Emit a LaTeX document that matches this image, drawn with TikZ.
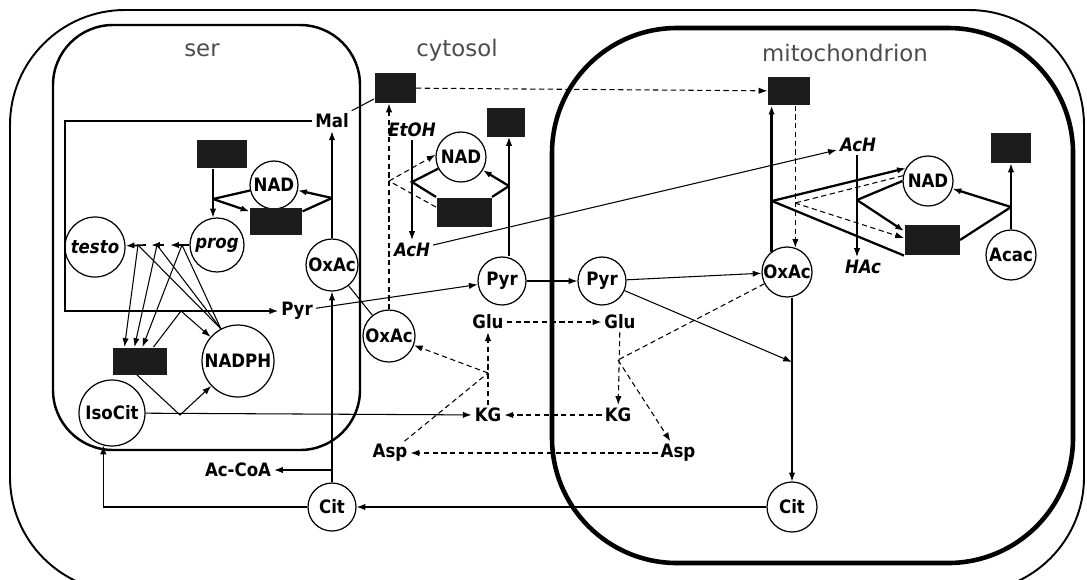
\documentclass[tikz,border=0pt]{standalone}
\usepackage{fontspec}
\newfontfamily\metfont{DejaVu Sans Condensed}
\newfontfamily\ttlfont{DejaVu Sans}
\usepackage{tikz}
\usetikzlibrary{calc,arrows.meta}
\definecolor{enzgray}{RGB}{28,28,28}

\begin{document}
\begin{tikzpicture}[x=0.02cm, y=-0.02cm, line width=0.6pt, >={Latex[length=5pt,width=3.6pt]},
    met/.style={circle, draw, line width=0.7pt, inner sep=0pt, minimum size=#1cm,
                font=\metfont\bfseries\fontsize{10.5}{12}\selectfont},
    met/.default=0.96,
    ital/.style={font=\metfont\bfseries\itshape\fontsize{10.5}{12}\selectfont},
    lbl/.style={inner sep=1.5pt, font=\metfont\bfseries\fontsize{10.5}{12}\selectfont},
    enz/.style n args={2}{rectangle, fill=enzgray, inner sep=0pt, minimum width=#1cm, minimum height=#2cm},
    ttl/.style={font=\ttlfont\fontsize{13}{15}\selectfont, text=black!70},
    bold/.style={line width=1.3pt},
    heavy/.style={line width=1.7pt},
    dashline/.style={dash pattern=on 3pt off 2pt}]
    \useasboundingbox (0,0) rectangle (1087,579);

    % Compartments
    \draw[line width=1.1pt, rounded corners=2.3cm] (10,10) rectangle (1084,592);
    \draw[line width=1.4pt, rounded corners=1.2cm] (53,25) rectangle (360,450);
    \draw[line width=2.6pt, rounded corners=2.5cm] (552,28) rectangle (1073,563);
    \node[ttl] (serT) at (202,50) {ser};
    \node[ttl] (cytT) at (457,50) {cytosol};
    \node[ttl] (mitT) at (845,53) {mitochondrion};

    % Ser
    \node[lbl] (malS) at (332,121) {Mal};
    \node[lbl] (pyrS) at (297,311) {Pyr};
    \node[met=1.04] (oxacS) at (332,265) {OxAc};
    \node[met] (nadS) at (274,185) {NAD};
    \node[enz={1.04}{0.54}] (nadhS) at (276,221) {};
    \node[enz={1.0}{0.56}] (boxS1) at (222,154) {};
    \node[met=1.08, ital] (prog) at (217,245) {prog};
    \node[met=1.2, ital] (testo) at (95,247) {testo};
    \node[enz={1.08}{0.54}] (nadpS) at (140,361) {};
    \node[met=1.44] (nadph) at (238,361) {NADPH};
    \node[met=1.32] (isocit) at (112,413) {IsoCit};

    % Cytosol
    \node[lbl] (accoa) at (238,470) {Ac-CoA};
    \node[met] (citC) at (332,507) {Cit};
    \node[met=1.04] (oxacC) at (389,336) {OxAc};
    \node[enz={0.82}{0.6}] (malC) at (395,88) {};
    \node[lbl, ital] (etoh) at (412,130) {EtOH};
    \node[lbl, ital] (achC) at (412,250) {AcH};
    \node[met=1.0] (nadC) at (461,157) {NAD};
    \node[enz={1.1}{0.58}] (nadhC) at (464,212) {};
    \node[enz={0.76}{0.58}] (boxC2) at (506,122) {};
    \node[met] (pyrC) at (502,281) {Pyr};
    \node[lbl] (gluC) at (488,322) {Glu};
    \node[lbl] (kgC) at (488,415) {KG};
    \node[lbl] (aspC) at (390,453) {Asp};

    % Mitochondrion
    \node[met] (pyrM) at (602,281) {Pyr};
    \node[lbl] (gluM) at (620,322) {Glu};
    \node[lbl] (kgM) at (618,415) {KG};
    \node[lbl] (aspM) at (678,453) {Asp};
    \node[met=1.0] (oxacM) at (787,272) {OxAc};
    \node[met=1.0] (citM) at (792,507) {Cit};
    \node[enz={0.84}{0.56}] (malM) at (789,91) {};
    \node[lbl, ital] (achM) at (858,145) {AcH};
    \node[lbl, ital] (hac) at (863,267) {HAc};
    \node[met=1.0] (nadM) at (928,181) {NAD};
    \node[enz={1.1}{0.6}] (nadhM) at (932,240) {};
    \node[enz={0.8}{0.6}] (boxM2) at (1011,148) {};
    \node[met=1.0] (acac) at (1011,255) {Acac};

    % Ser: malic enzyme, isocitrate dehydrogenase
    \coordinate (cMal) at (65,121);
    \coordinate (jME) at (181,311);
    \coordinate (jIDH) at (180,415);
    \draw[->] (malS) -- (cMal) |- (pyrS);
    \draw (malS) -- (malC);
    \draw[->] ($(nadpS.north east)+(-14,0)$) -- (jME) -- (nadph);
    \draw[->] (isocit) -- (kgC);
    \draw[->] ($(nadpS.south)+(-3,0)$) -- (jIDH) -- (nadph);

    % Ser: prog to testo
    \coordinate (s1) at (170,245);
    \coordinate (s2) at (164,245);
    \coordinate (s3) at (151,245);
    \coordinate (s4) at (146,245);
    \draw[->, line width=1pt] (prog) -- (s1);
    \draw[->, line width=1pt] (s2) -- (s3);
    \draw[->, line width=1pt] (s4) -- (testo);
    \coordinate (jT1) at (138,245);
    \coordinate (jT2) at (157,245);
    \coordinate (jT3) at (182,245);
    \foreach \j/\dx in {jT1/12, jT2/22, jT3/30} {
        \draw (nadph.118) -- (\j);
        \draw[->] (\j) -- ($(nadpS.north west)+(\dx,0)$);
    }

    % Ser: NAD / NADH pairs
    \coordinate (jP) at (213,199);
    \coordinate (jMDH) at (332,198);
    \draw[->] (boxS1.south -| jP) -- (jP |- prog.north);
    \draw[bold] (nadS) -- (jP);
    \draw[bold, ->] (jP) -- (nadhS.160);
    \draw[->] (oxacS) -- (malS);
    \draw[bold] (nadhS.20) -- (jMDH);
    \draw[bold, ->] (jMDH) -- (nadS);

    % Citrate lyase
    \coordinate (jCL) at (332,470);
    \draw[->] (citC) -- (oxacS);
    \draw[->] (jCL) -- (accoa);
    \draw[->] (citC) -| (isocit.255);
    \draw (oxacS) -- (oxacC);

    % Cytosol
    \coordinate (jD) at (389,181);
    \coordinate (jADH) at (412,182);
    \coordinate (jLDH) at (509,186);
    \draw[dashline, ->] (oxacC.north) -- (oxacC.north |- malC.south);
    \draw[dashline] (nadhC.170) -- (jD);
    \draw[dashline, ->] (jD) -- (nadC.175);
    \draw[dashline, ->] (malC) -- (malM);
    \draw[->] (etoh) -- (achC);
    \draw[bold] (nadC) -- (jADH) -- (nadhC.north west);
    \draw[->] (pyrC.north -| jLDH) -- (jLDH |- boxC2.south);
    \draw[bold] (nadhC.north east) -- (jLDH);
    \draw[bold, ->] (jLDH) -- (nadC);
    \draw[->] (achC) -- (achM);
    \draw[->] (pyrS) -- (pyrC);
    \draw[->] (pyrC) -- (pyrM);

    % Shuttle
    \coordinate (jAAT) at (488,373);
    \draw[dashline, ->] (gluC) -- (gluM);
    \draw[dashline, ->] (kgM) -- (kgC);
    \draw[dashline, ->] (aspM) -- (aspC);
    \draw[dashline, ->] (kgC) -- (gluC);
    \draw[dashline] (aspC) -- (jAAT);
    \draw[dashline, ->] (jAAT) -- (oxacC);

    % Mitochondrion
    \coordinate (jCS) at (792,362);
    \coordinate (jAATm) at (618,360);
    \draw[->] (pyrM) -- (oxacM);
    \draw[->] (pyrM) -- (jCS);
    \draw[->] (oxacM.south -| citM) -- (citM);
    \draw[->] (citM) -- (citC);
    \draw[dashline, ->] (gluM) -- (kgM);
    \draw[dashline] (oxacM) -- (jAATm);
    \draw[dashline, ->] (jAATm) -- (aspM);

    \coordinate (jMDHm) at (772,201);
    \coordinate (jMDHr) at (795,203);
    \coordinate (jALDH) at (857,200);
    \coordinate (jBDH) at (1011,207);
    \draw[heavy, ->] (oxacM.127) -- (oxacM.127 |- malM.south);
    \draw[bold] (nadhM.south west) -- (jMDHm);
    \draw[bold, ->] (jMDHm) -- (nadM.150);
    \draw[dashline, ->] (malM.south -| oxacM.71) -- (oxacM.71);
    \draw[dashline] (nadM.168) -- (jMDHr);
    \draw[dashline, ->] (jMDHr) -- ($(nadhM.west)+(0,-2)$);
    \draw[->] (achM.south -| jALDH) -- (jALDH |- hac.north);
    \draw[bold] (nadM.180) -- (jALDH);
    \draw[bold, ->] (jALDH) -- ($(nadhM.west)+(0,-9)$);
    \draw[->] (acac) -- (boxM2);
    \draw[bold] (nadhM.east) -- (jBDH);
    \draw[bold, ->] (jBDH) -- (nadM);
\end{tikzpicture}
\end{document}
